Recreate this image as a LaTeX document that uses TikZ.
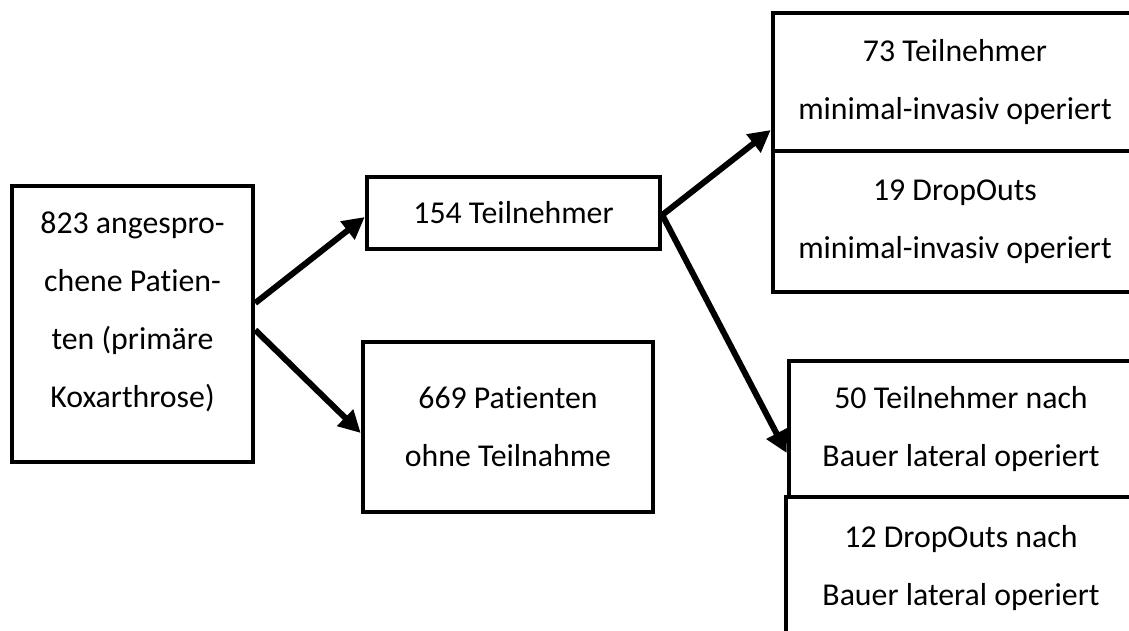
\documentclass[tikz,border=0pt]{standalone}
\usepackage{fontspec}
\setmainfont{Carlito}[Ligatures=NoCommon]
\usetikzlibrary{arrows.meta}
\tikzset{
    boxtext/.style={inner sep=0pt, align=center, font=\fontsize{31.8}{58}\selectfont},
    box/.style={boxtext, draw, line width=4.5pt},
    arr/.style={line width=6pt, -{Triangle[length=22pt,width=22pt]}}
}
\begin{document}
\begin{tikzpicture}[x=1pt, y=-1pt]
    \useasboundingbox (0,0) rectangle (1129,630);
    \clip (0,0) rectangle (1129,630);
    % Left: all contacted patients (text sits high in its box)
    \node[box, minimum width=241pt, minimum height=276pt] (contacted) at (132.5,324) {};
    \node[boxtext] (contactedtext) at ([yshift=12pt]contacted.center)
        {823 angespro-\\chene Patien-\\ten (primäre\\Koxarthrose)};
    % Middle column
    \node[box, minimum width=293pt, minimum height=72pt] (part) at (513.5,213) {154 Teilnehmer};
    \node[box, minimum width=290pt, minimum height=170pt] (nopart) at (508,427)
        {669 Patienten\\ohne Teilnahme};
    % Right column (boxes run past the edge)
    \node[box, minimum width=364pt, minimum height=138pt] (mini) at (955,82)
        {73 Teilnehmer\\minimal-invasiv operiert};
    \node[box, minimum width=364pt, minimum height=141pt] (minidrop) at (955,221.5)
        {19 DropOuts\\minimal-invasiv operiert};
    \node[box, minimum width=344pt, minimum height=136pt] (bauer) at (961,429)
        {50 Teilnehmer nach\\Bauer lateral operiert};
    \node[box, minimum width=350pt, minimum height=143pt] (bauerdrop) at (961,568.5)
        {12 DropOuts nach\\Bauer lateral operiert};

    % Arrows
    \draw[arr] ([yshift=21pt]contacted.east) -- ([yshift=-4pt]part.west);
    \draw[arr] ([yshift=-6pt]contacted.east) -- ([yshift=-6pt]nopart.west);
    \draw[arr] ([yshift=-2pt]part.east) -- ([yshift=-48pt]mini.west);
    \draw[arr] ([yshift=-2pt]part.east) -- ([yshift=-24pt]bauer.west);
\end{tikzpicture}
\end{document}
